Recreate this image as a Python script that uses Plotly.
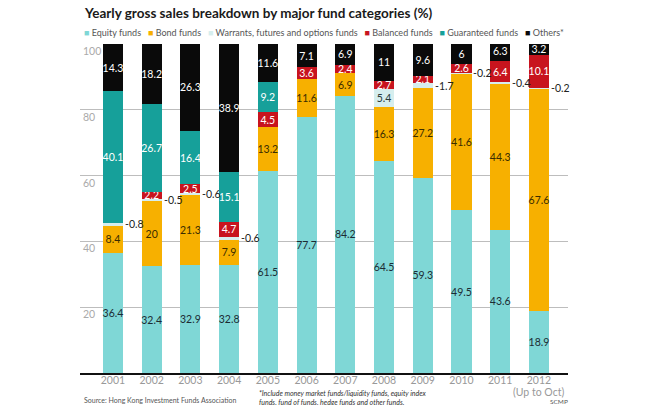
import plotly.graph_objects as go

years = ["2001", "2002", "2003", "2004", "2005", "2006", "2007", "2008", "2009", "2010", "2011", "2012"]
year_notes = ["", "", "", "", "", "", "", "", "", "", "", "(Up to Oct)"]
series_names = ["Equity funds", "Bond funds", "Warrants, futures and options funds", "Balanced funds", "Guaranteed funds", "Others*"]
equity = [36.4, 32.4, 32.9, 32.8, 61.5, 77.7, 84.2, 64.5, 59.3, 49.5, 43.6, 18.9]
bond = [8.4, 20, 21.3, 7.9, 13.2, 11.6, 6.9, 16.3, 27.2, 41.6, 44.3, 67.6]
warrants = [0.8, 0.5, 0.6, 0.6, 0, 0, 0, 5.4, 1.7, 0.2, 0.4, 0.2]
balanced = [0, 2.2, 2.5, 4.7, 4.5, 3.6, 2.4, 2.7, 2.1, 2.6, 6.4, 10.1]
guaranteed = [40.1, 26.7, 16.4, 15.1, 9.2, 0, 0, 0, 0, 0, 0, 0]
others = [14.3, 18.2, 26.3, 38.9, 11.6, 7.1, 6.9, 11, 9.6, 6, 6.3, 3.2]
y_ticks = [20, 40, 60, 80, 100]

colors = ["#7fd7d6", "#f7b000", "#d6eeee", "#c8141e", "#16a09a", "#0a0a0a"]
text_colors = ["#1c2b33", "#3a2c00", "#2a3a3a", "#ffffff", "#ffffff", "#ffffff"]
FONT = "Lato, sans-serif"
SMALL = 2.0  # segments below this get an outside label

all_series = [equity, bond, warrants, balanced, guaranteed, others]

fig = go.Figure()
for name, vals, col, tcol in zip(series_names, all_series, colors, text_colors):
    txt = [("" if (v == 0 or v < SMALL) else f"{v:g}") for v in vals]
    fig.add_trace(go.Bar(
        x=years, y=vals, name=name, marker=dict(color=col, line=dict(width=0)),
        text=txt, textposition="inside", insidetextanchor="middle", textangle=0,
        constraintext="none", textfont=dict(family=FONT, size=10.5, color=tcol),
        showlegend=False, hoverinfo="skip",
    ))

# outside labels for thin warrant segments
for i, v in enumerate(warrants):
    if 0 < v < SMALL:
        base = equity[i] + bond[i]
        fig.add_annotation(x=i, y=base + v / 2, text="-" + f"{v:g}", showarrow=False,
                           xanchor="left", yanchor="middle", xshift=10,
                           font=dict(family=FONT, size=10.5, color="#222"))

# second line under the last year label
for i, note in enumerate(year_notes):
    if note:
        fig.add_annotation(x=i, xref="x", yref="paper", y=-0.057, text=note, showarrow=False,
                           xanchor="center", yanchor="middle",
                           font=dict(family=FONT, size=10.5, color="#999"))

legend_html = "&nbsp;&nbsp;&nbsp;".join(
    f'<span style="color:{c}">■</span> {n}' for n, c in zip(series_names, colors)
)
fig.add_annotation(xref="paper", yref="paper", x=0.004, y=1.036, xanchor="left", yanchor="middle",
                   text=legend_html, showarrow=False, font=dict(family=FONT, size=9, color="#555"))
fig.add_annotation(xref="paper", yref="paper", x=0.004, y=1.095, xanchor="left", yanchor="middle",
                   text="<b>Yearly gross sales breakdown by major fund categories (%)</b>", showarrow=False,
                   font=dict(family=FONT, size=13.5, color="#1a1a1a"))
fig.add_annotation(xref="paper", yref="paper", x=0.004, y=-0.082, xanchor="left", yanchor="middle",
                   text="Source: Hong Kong Investment Funds Association", showarrow=False,
                   font=dict(family=FONT, size=7, color="#555"))
fig.add_annotation(xref="paper", yref="paper", x=0.363, y=-0.043, xanchor="left", yanchor="top", align="left",
                   text="<i>*Include money market funds/liquidity funds, equity index<br>funds, fund of funds, hedge funds and other funds.</i>",
                   showarrow=False, font=dict(family=FONT, size=7, color="#333"))
fig.add_annotation(xref="paper", yref="paper", x=1.004, y=-0.088, xanchor="right", yanchor="middle",
                   text="SCMP", showarrow=False, font=dict(family=FONT, size=6.5, color="#555"))

fig.update_layout(
    barmode="stack", bargap=0.48,
    width=652, height=405, margin=dict(l=80, r=84, t=44, b=32, autoexpand=False),
    paper_bgcolor="white", plot_bgcolor="white",
    font=dict(family=FONT),
    xaxis=dict(type="category", range=[-0.85, 11.75], showgrid=False, showline=True, automargin=False,
               tickangle=0, linecolor="#111", linewidth=1.5, ticks="", ticklabelstandoff=-3,
               tickfont=dict(family=FONT, size=10.5, color="#999")),
    yaxis=dict(range=[0, 100], tickvals=y_ticks, ticktext=[str(t) for t in y_ticks], automargin=False,
               ticklabelposition="inside bottom", showgrid=True, gridcolor="#bdbdbd", gridwidth=1,
               zeroline=False, showline=False, tickfont=dict(family=FONT, size=10.5, color="#aaa")),
)
fig.write_html("out.html")
